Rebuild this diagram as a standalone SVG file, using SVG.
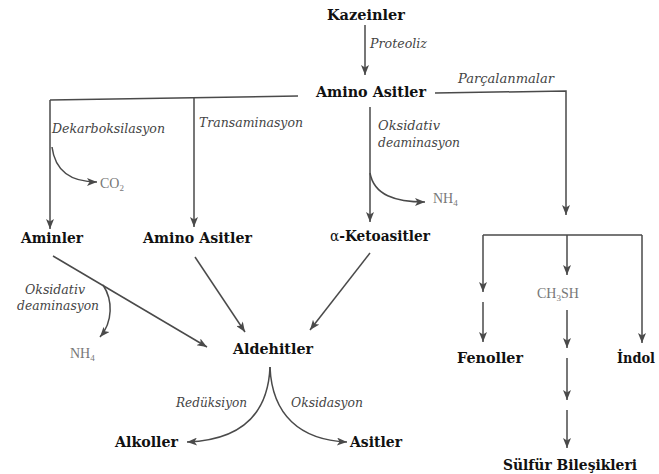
<svg xmlns="http://www.w3.org/2000/svg" width="659" height="474" viewBox="0 0 659 474">
<defs>
<marker id="ah" viewBox="0 0 10 8" refX="10" refY="4" markerWidth="11" markerHeight="8" markerUnits="userSpaceOnUse" orient="auto">
<path d="M0,0 L10,4 L0,8 L2.5,4 z" fill="#4a4a4a"/>
</marker>
<style>
.b{font-family:'DejaVu Serif','Liberation Serif',serif;font-weight:bold;font-size:14px;fill:#111}
.i{font-family:'DejaVu Serif','Liberation Serif',serif;font-style:italic;font-size:12px;fill:#444}
.g{font-family:'Liberation Serif','DejaVu Serif',serif;font-size:14px;fill:#777}
.l{fill:none;stroke:#4a4a4a;stroke-width:1.5}
.a{marker-end:url(#ah)}
</style>
</defs>
<rect width="659" height="474" fill="#fff"/>
<g id="connectors">
<path class="l a" d="M365,25 V75"/>
<path class="l" d="M298,96 L50,100"/>
<path class="l a" d="M50,100 V229"/>
<path class="l a" d="M194,98 V227"/>
<path class="l a" d="M52,147 C55,170 70,182 97,182"/>
<path class="l a" d="M370,107 V222"/>
<path class="l a" d="M370,173 C374,195 395,202 425,202"/>
<path class="l a" d="M435,93 L566,91 V215"/>
<path class="l" d="M483,235 H642"/>
<path class="l a" d="M483,235 V292"/>
<path class="l a" d="M483,302 V342"/>
<path class="l a" d="M567,235 V275"/>
<path class="l a" d="M567,310 V348"/>
<path class="l a" d="M567,358 V400"/>
<path class="l a" d="M567,410 V448"/>
<path class="l a" d="M642,235 V343"/>
<path class="l a" d="M53,256 L207,347"/>
<path class="l a" d="M103,285 C113,300 113,322 100,337"/>
<path class="l a" d="M195,257 L245,332"/>
<path class="l a" d="M370,253 L310,330"/>
<path class="l a" d="M270,367 C268,415 240,440 187,442"/>
<path class="l a" d="M270,367 C272,415 300,440 347,442"/>
</g>
<g id="n-kazeinler"><text class="b" x="327" y="20" textLength="78" lengthAdjust="spacingAndGlyphs">Kazeinler</text></g>
<g id="l-proteoliz"><text class="i" x="370" y="48" textLength="57" lengthAdjust="spacingAndGlyphs">Proteoliz</text></g>
<g id="n-aminoasitler1"><text class="b" x="316" y="97" textLength="110" lengthAdjust="spacingAndGlyphs">Amino Asitler</text></g>
<g id="l-parcalanmalar"><text class="i" x="458" y="83" textLength="96" lengthAdjust="spacingAndGlyphs">Parçalanmalar</text></g>
<g id="l-dekarboksilasyon"><text class="i" x="52" y="133" textLength="113" lengthAdjust="spacingAndGlyphs">Dekarboksilasyon</text></g>
<g id="l-transaminasyon"><text class="i" x="199" y="127" textLength="104" lengthAdjust="spacingAndGlyphs">Transaminasyon</text></g>
<g id="l-oksidativ1"><text class="i" x="378" y="130" textLength="62" lengthAdjust="spacingAndGlyphs">Oksidativ</text><text class="i" x="378" y="147" textLength="82" lengthAdjust="spacingAndGlyphs">deaminasyon</text></g>
<g id="n-co2"><text class="g" x="100" y="188">CO<tspan font-size="9" dy="3">2</tspan></text></g>
<g id="n-nh4a"><text class="g" x="433" y="203">NH<tspan font-size="9" dy="3">4</tspan></text></g>
<g id="n-aminler"><text class="b" x="21" y="243" textLength="62" lengthAdjust="spacingAndGlyphs">Aminler</text></g>
<g id="n-aminoasitler2"><text class="b" x="143" y="243" textLength="109" lengthAdjust="spacingAndGlyphs">Amino Asitler</text></g>
<g id="n-ketoasitler"><text class="b" x="330" y="241" textLength="100" lengthAdjust="spacingAndGlyphs"><tspan font-weight="normal">α</tspan>-Ketoasitler</text></g>
<g id="l-oksidativ2"><text class="i" x="25" y="294" textLength="60" lengthAdjust="spacingAndGlyphs">Oksidativ</text><text class="i" x="17" y="310" textLength="82" lengthAdjust="spacingAndGlyphs">deaminasyon</text></g>
<g id="n-nh4b"><text class="g" x="70" y="358">NH<tspan font-size="9" dy="3">4</tspan></text></g>
<g id="n-aldehitler"><text class="b" x="233" y="354" textLength="80" lengthAdjust="spacingAndGlyphs">Aldehitler</text></g>
<g id="l-reduksiyon"><text class="i" x="176" y="407" textLength="71" lengthAdjust="spacingAndGlyphs">Redüksiyon</text></g>
<g id="l-oksidasyon"><text class="i" x="291" y="407" textLength="72" lengthAdjust="spacingAndGlyphs">Oksidasyon</text></g>
<g id="n-alkoller"><text class="b" x="115" y="447" textLength="63" lengthAdjust="spacingAndGlyphs">Alkoller</text></g>
<g id="n-asitler"><text class="b" x="350" y="447" textLength="52" lengthAdjust="spacingAndGlyphs">Asitler</text></g>
<g id="n-ch3sh"><text class="g" x="537" y="298">CH<tspan font-size="9" dy="3">3</tspan><tspan dy="-3">SH</tspan></text></g>
<g id="n-fenoller"><text class="b" x="457" y="363" textLength="66" lengthAdjust="spacingAndGlyphs">Fenoller</text></g>
<g id="n-indol"><text class="b" x="617" y="363" textLength="38" lengthAdjust="spacingAndGlyphs">İndol</text></g>
<g id="n-sulfur"><text class="b" x="503" y="470" textLength="134" lengthAdjust="spacingAndGlyphs">Sülfür Bileşikleri</text></g>
</svg>
